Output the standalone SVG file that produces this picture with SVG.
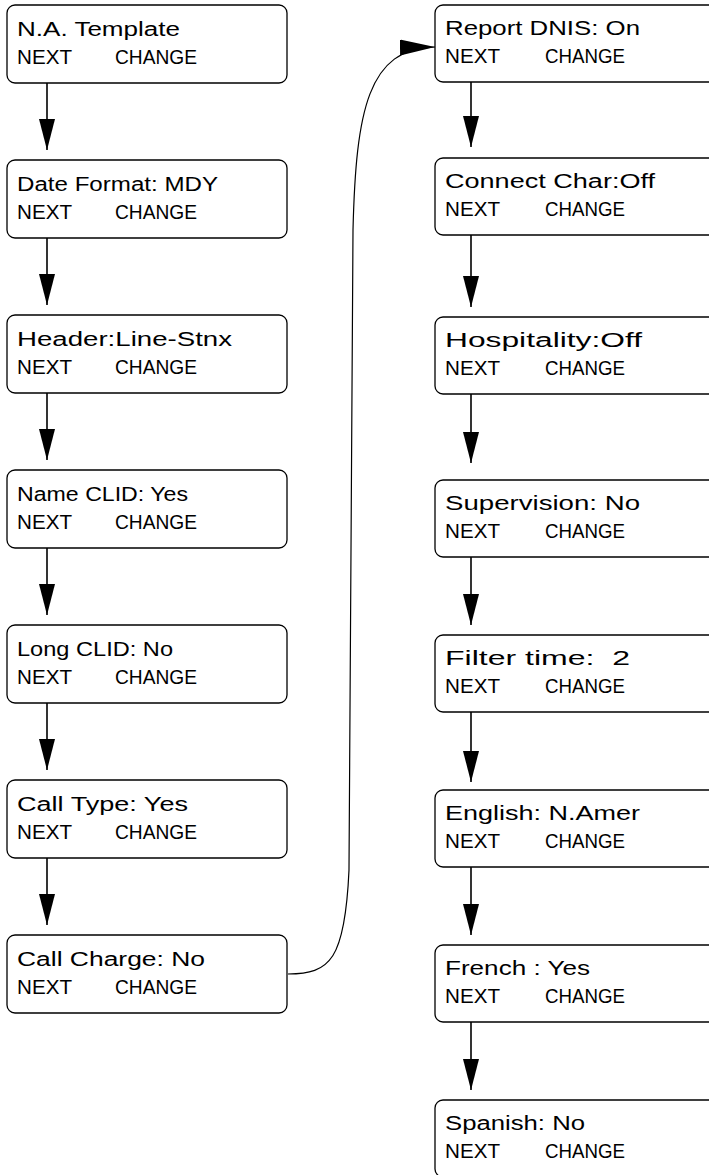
<svg xmlns="http://www.w3.org/2000/svg" width="709" height="1175" viewBox="0 0 709 1175">
<style>
.box{fill:#fff;stroke:#000;stroke-width:1.3}
.t{font-family:"Liberation Sans",Arial,sans-serif;font-size:20px;fill:#000}
.c{fill:none;stroke:#000;stroke-width:1.6}
.cv{fill:none;stroke:#000;stroke-width:1.2}
</style>
<defs>
<marker id="ah" markerWidth="32" markerHeight="16" refX="31" refY="8" orient="auto" markerUnits="userSpaceOnUse"><path d="M0,0 L31,8 L0,16 Z" fill="#000"/></marker>
<marker id="ah2" markerWidth="36" markerHeight="16" refX="35" refY="8" orient="auto" markerUnits="userSpaceOnUse"><path d="M0,0 L35,8 L0,16 Z" fill="#000"/></marker>
</defs>
<g id="connectors">
<path class="c" d="M47 83 V150" marker-end="url(#ah)"/>
<path class="c" d="M47 238 V305" marker-end="url(#ah)"/>
<path class="c" d="M47 393 V460" marker-end="url(#ah)"/>
<path class="c" d="M47 548 V615" marker-end="url(#ah)"/>
<path class="c" d="M47 703 V770" marker-end="url(#ah)"/>
<path class="c" d="M47 858 V925" marker-end="url(#ah)"/>
<path class="cv" d="M288 974 C330 974 345 960 349 870 L353 230 C356 110 368 48 435 47" marker-end="url(#ah2)"/>
<path class="c" d="M471 82 V147" marker-end="url(#ah)"/>
<path class="c" d="M471 235 V307" marker-end="url(#ah)"/>
<path class="c" d="M471 394 V463" marker-end="url(#ah)"/>
<path class="c" d="M471 557 V625" marker-end="url(#ah)"/>
<path class="c" d="M471 712 V782" marker-end="url(#ah)"/>
<path class="c" d="M471 867 V935" marker-end="url(#ah)"/>
<path class="c" d="M471 1022 V1090" marker-end="url(#ah)"/>
</g>
<g id="n1"><rect class="box" x="7" y="5" width="280" height="78" rx="8"/><text class="t" x="17" y="36" textLength="163" lengthAdjust="spacingAndGlyphs">N.A. Template</text><text class="t" x="17" y="64" textLength="55" lengthAdjust="spacingAndGlyphs">NEXT</text><text class="t" x="115" y="64" textLength="82" lengthAdjust="spacingAndGlyphs">CHANGE</text></g>
<g id="n2"><rect class="box" x="7" y="160" width="280" height="78" rx="8"/><text class="t" x="17" y="191" textLength="201" lengthAdjust="spacingAndGlyphs">Date Format: MDY</text><text class="t" x="17" y="219" textLength="55" lengthAdjust="spacingAndGlyphs">NEXT</text><text class="t" x="115" y="219" textLength="82" lengthAdjust="spacingAndGlyphs">CHANGE</text></g>
<g id="n3"><rect class="box" x="7" y="315" width="280" height="78" rx="8"/><text class="t" x="17" y="346" textLength="215" lengthAdjust="spacingAndGlyphs">Header:Line-Stnx</text><text class="t" x="17" y="374" textLength="55" lengthAdjust="spacingAndGlyphs">NEXT</text><text class="t" x="115" y="374" textLength="82" lengthAdjust="spacingAndGlyphs">CHANGE</text></g>
<g id="n4"><rect class="box" x="7" y="470" width="280" height="78" rx="8"/><text class="t" x="17" y="501" textLength="171" lengthAdjust="spacingAndGlyphs">Name CLID: Yes</text><text class="t" x="17" y="529" textLength="55" lengthAdjust="spacingAndGlyphs">NEXT</text><text class="t" x="115" y="529" textLength="82" lengthAdjust="spacingAndGlyphs">CHANGE</text></g>
<g id="n5"><rect class="box" x="7" y="625" width="280" height="78" rx="8"/><text class="t" x="17" y="656" textLength="156" lengthAdjust="spacingAndGlyphs">Long CLID: No</text><text class="t" x="17" y="684" textLength="55" lengthAdjust="spacingAndGlyphs">NEXT</text><text class="t" x="115" y="684" textLength="82" lengthAdjust="spacingAndGlyphs">CHANGE</text></g>
<g id="n6"><rect class="box" x="7" y="780" width="280" height="78" rx="8"/><text class="t" x="17" y="811" textLength="171" lengthAdjust="spacingAndGlyphs">Call Type: Yes</text><text class="t" x="17" y="839" textLength="55" lengthAdjust="spacingAndGlyphs">NEXT</text><text class="t" x="115" y="839" textLength="82" lengthAdjust="spacingAndGlyphs">CHANGE</text></g>
<g id="n7"><rect class="box" x="7" y="935" width="280" height="78" rx="8"/><text class="t" x="17" y="966" textLength="188" lengthAdjust="spacingAndGlyphs">Call Charge: No</text><text class="t" x="17" y="994" textLength="55" lengthAdjust="spacingAndGlyphs">NEXT</text><text class="t" x="115" y="994" textLength="82" lengthAdjust="spacingAndGlyphs">CHANGE</text></g>
<g id="n8"><rect class="box" x="435" y="5" width="285" height="77" rx="8"/><text class="t" x="445" y="35" textLength="195" lengthAdjust="spacingAndGlyphs">Report DNIS: On</text><text class="t" x="445" y="63" textLength="55" lengthAdjust="spacingAndGlyphs">NEXT</text><text class="t" x="545" y="63" textLength="80" lengthAdjust="spacingAndGlyphs">CHANGE</text></g>
<g id="n9"><rect class="box" x="435" y="158" width="285" height="77" rx="8"/><text class="t" x="445" y="188" textLength="210" lengthAdjust="spacingAndGlyphs">Connect Char:Off</text><text class="t" x="445" y="216" textLength="55" lengthAdjust="spacingAndGlyphs">NEXT</text><text class="t" x="545" y="216" textLength="80" lengthAdjust="spacingAndGlyphs">CHANGE</text></g>
<g id="n10"><rect class="box" x="435" y="317" width="285" height="77" rx="8"/><text class="t" x="445" y="347" textLength="197" lengthAdjust="spacingAndGlyphs">Hospitality:Off</text><text class="t" x="445" y="375" textLength="55" lengthAdjust="spacingAndGlyphs">NEXT</text><text class="t" x="545" y="375" textLength="80" lengthAdjust="spacingAndGlyphs">CHANGE</text></g>
<g id="n11"><rect class="box" x="435" y="480" width="285" height="77" rx="8"/><text class="t" x="445" y="510" textLength="195" lengthAdjust="spacingAndGlyphs">Supervision: No</text><text class="t" x="445" y="538" textLength="55" lengthAdjust="spacingAndGlyphs">NEXT</text><text class="t" x="545" y="538" textLength="80" lengthAdjust="spacingAndGlyphs">CHANGE</text></g>
<g id="n12"><rect class="box" x="435" y="635" width="285" height="77" rx="8"/><text class="t" x="445" y="665" textLength="185" lengthAdjust="spacingAndGlyphs" xml:space="preserve">Filter time:  2</text><text class="t" x="445" y="693" textLength="55" lengthAdjust="spacingAndGlyphs">NEXT</text><text class="t" x="545" y="693" textLength="80" lengthAdjust="spacingAndGlyphs">CHANGE</text></g>
<g id="n13"><rect class="box" x="435" y="790" width="285" height="77" rx="8"/><text class="t" x="445" y="820" textLength="195" lengthAdjust="spacingAndGlyphs">English: N.Amer</text><text class="t" x="445" y="848" textLength="55" lengthAdjust="spacingAndGlyphs">NEXT</text><text class="t" x="545" y="848" textLength="80" lengthAdjust="spacingAndGlyphs">CHANGE</text></g>
<g id="n14"><rect class="box" x="435" y="945" width="285" height="77" rx="8"/><text class="t" x="445" y="975" textLength="145" lengthAdjust="spacingAndGlyphs">French : Yes</text><text class="t" x="445" y="1003" textLength="55" lengthAdjust="spacingAndGlyphs">NEXT</text><text class="t" x="545" y="1003" textLength="80" lengthAdjust="spacingAndGlyphs">CHANGE</text></g>
<g id="n15"><rect class="box" x="435" y="1100" width="285" height="77" rx="8"/><text class="t" x="445" y="1130" textLength="140" lengthAdjust="spacingAndGlyphs">Spanish: No</text><text class="t" x="445" y="1158" textLength="55" lengthAdjust="spacingAndGlyphs">NEXT</text><text class="t" x="545" y="1158" textLength="80" lengthAdjust="spacingAndGlyphs">CHANGE</text></g>
</svg>
